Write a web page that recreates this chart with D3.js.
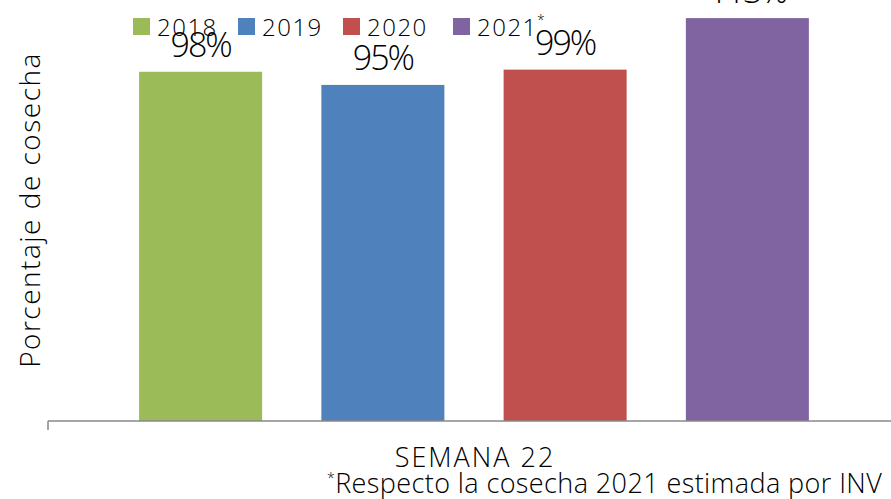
<!DOCTYPE html>
<html>
<head>
<meta charset="utf-8">
<script src="https://cdn.jsdelivr.net/npm/d3@7"></script>
<style>
    body { margin: 0; background: #fff; }
    svg text { font-family: "Open Sans", Lato, sans-serif; font-weight: 300; fill: #000; }
</style>
</head>
<body>
<div id="chart"></div>
<script>
// harvest percentage by year, week 22
let years = ["2018", "2019", "2020", "2021"];
let values = [98.3, 94.6, 98.9, 113.4];
let colors = ["#9BBB59", "#4F81BD", "#C0504D", "#8064A2"];
let category = "SEMANA 22";

let width = 891, height = 499;

let svg = d3.select("#chart")
    .append("svg")
    .attr("width", width)
    .attr("height", height);

// x scale by year
let x = d3.scaleBand()
    .domain(years)
    .range([48, 900])
    .paddingInner(0.325)
    .paddingOuter(0.5);

// y scale by percentage
let y = d3.scaleLinear()
    .domain([0, 118.5])
    .range([421, 0]);

// bars
svg.selectAll("rect.bar")
    .data(years)
    .enter()
    .append("rect")
    .attr("class", "bar")
    .attr("x", d => x(d))
    .attr("y", (d, i) => y(values[i]))
    .attr("width", x.bandwidth())
    .attr("height", (d, i) => y(0) - y(values[i]))
    .attr("fill", (d, i) => colors[i]);

// value labels
svg.selectAll("text.value")
    .data(years)
    .enter()
    .append("text")
    .attr("class", "value")
    .attr("x", d => x(d) + x.bandwidth() / 2)
    .attr("y", (d, i) => y(values[i]) - 15)
    .attr("text-anchor", "middle")
    .attr("font-size", "34px")
    .attr("letter-spacing", "-2px")
    .text((d, i) => Math.round(values[i]) + "%");

// x axis line with a single tick at the left end
svg.append("line")
    .attr("x1", 48).attr("x2", width)
    .attr("y1", y(0)).attr("y2", y(0))
    .attr("stroke", "#898989")
    .attr("stroke-width", 1.5);
svg.append("line")
    .attr("x1", 48).attr("x2", 48)
    .attr("y1", y(0)).attr("y2", y(0) + 9)
    .attr("stroke", "#898989")
    .attr("stroke-width", 1.5);

// category label
svg.append("text")
    .attr("x", 475)
    .attr("y", 467)
    .attr("text-anchor", "middle")
    .attr("font-size", "27px")
    .attr("letter-spacing", "2px")
    .text(category);

// y axis title
svg.append("text")
    .attr("transform", "translate(40, 210) rotate(-90)")
    .attr("text-anchor", "middle")
    .attr("font-size", "28px")
    .attr("letter-spacing", "1.5px")
    .text("Porcentaje de cosecha");

// legend
let legendX = [133, 238, 343, 453];
let legend = svg.selectAll("g.legend")
    .data(years)
    .enter()
    .append("g")
    .attr("class", "legend")
    .attr("transform", (d, i) => "translate(" + legendX[i] + ", 18)");

legend.append("rect")
    .attr("width", 17)
    .attr("height", 17)
    .attr("fill", (d, i) => colors[i]);

legend.append("text")
    .attr("x", 24)
    .attr("y", 18)
    .attr("font-size", "24px")
    .attr("letter-spacing", "1.5px")
    .text(d => d);

// asterisk on 2021
svg.append("text")
    .attr("x", 537)
    .attr("y", 25)
    .attr("font-size", "14px")
    .text("*");

// footnote
let foot = svg.append("text")
    .attr("x", 327)
    .attr("y", 493)
    .attr("font-size", "27px")
    .attr("letter-spacing", "0.4px");
foot.append("tspan")
    .attr("font-size", "14px")
    .attr("dy", "-10")
    .text("*");
foot.append("tspan")
    .attr("dy", "10")
    .text("Respecto la cosecha 2021 estimada por INV");
</script>
</body>
</html>
